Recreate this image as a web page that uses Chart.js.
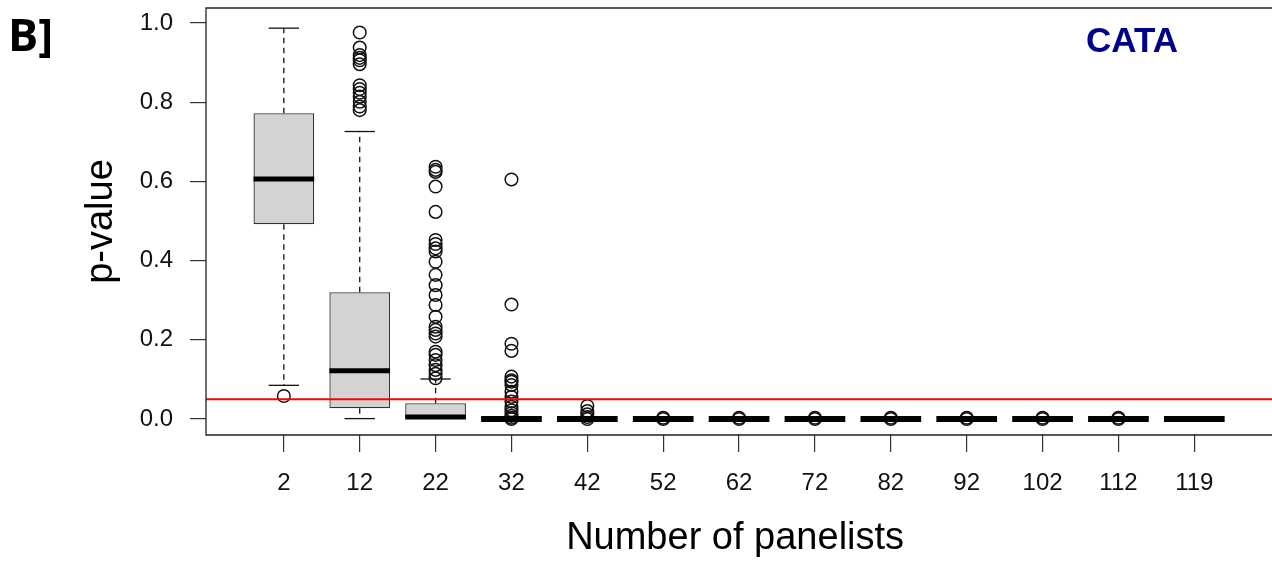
<!DOCTYPE html>
<html>
<head>
<meta charset="utf-8">
<script src="https://cdn.jsdelivr.net/npm/chart.js@4/dist/chart.umd.min.js"></script>
<style>
  html, body { margin: 0; padding: 0; background: #fff; overflow: hidden; }
  #wrap { width: 1272px; height: 561px; }
  canvas { display: block; }
</style>
</head>
<body>
<div id="wrap"><canvas id="c" width="1272" height="561"></canvas></div>
<script>
// panel sizes (x categories)
var panelists = ['2', '12', '22', '32', '42', '52', '62', '72', '82', '92', '102', '112', '119'];

// box plot statistics
var lowerWhisker = [0.085, 0.001, 0.0, 0, 0, 0, 0, 0, 0, 0, 0, 0, 0];
var q1 = [0.492, 0.027, 0.0, 0, 0, 0, 0, 0, 0, 0, 0, 0, 0];
var medians = [0.606, 0.122, 0.005, 0, 0, 0, 0, 0, 0, 0, 0, 0, 0];
var q3 = [0.772, 0.320, 0.040, 0, 0, 0, 0, 0, 0, 0, 0, 0, 0];
var upperWhisker = [0.987, 0.726, 0.101, 0, 0, 0, 0, 0, 0, 0, 0, 0, 0];

var outliers = [
    [0.058],
    [0.976, 0.938, 0.919, 0.912, 0.906, 0.896, 0.843, 0.833, 0.824, 0.814, 0.801, 0.789, 0.780],
    [0.637, 0.629, 0.624, 0.587, 0.523, 0.452, 0.442, 0.431, 0.423, 0.397, 0.364, 0.338, 0.313,
     0.288, 0.258, 0.233, 0.225, 0.216, 0.208, 0.170, 0.162, 0.149, 0.136, 0.124, 0.114, 0.103],
    [0.605, 0.289, 0.190, 0.172, 0.107, 0.098, 0.094, 0.086, 0.069, 0.056, 0.044, 0.031, 0.022,
     0.015, 0.008, 0.003, 0.0],
    [0.033, 0.020, 0.012, 0.005, 0.0],
    [0.003, 0.0],
    [0.003, 0.0],
    [0.003, 0.0],
    [0.003, 0.0],
    [0.003, 0.0],
    [0.003, 0.0],
    [0.003, 0.0],
    []
];

var yTicks = [0, 0.2, 0.4, 0.6, 0.8, 1.0];
var pThreshold = 0.05;

var boxData = [];
var outlierData = [];
for (var i = 0; i < panelists.length; i += 1) {
    boxData.push({ x: i, y: [q1[i], q3[i]] });
    for (var j = 0; j < outliers[i].length; j += 1) {
        outlierData.push({ x: i, y: outliers[i][j] });
    }
}

var axisFont = { family: "'Liberation Sans', Arial, sans-serif", size: 24 };
var titleFont = { family: "'Liberation Sans', Arial, sans-serif", size: 38 };

function noPadding(scale) {
    scale.paddingLeft = 0;
    scale.paddingRight = 0;
    scale.paddingTop = 0;
    scale.paddingBottom = 0;
}

// whiskers + medians, drawn right after the boxes so outliers sit on top
var boxPlotPlugin = {
    id: 'boxPlot',
    afterDatasetDraw: function (chart, args) {
        if (args.index !== 0) return;
        var ctx = chart.ctx;
        var xs = chart.scales.x;
        var ys = chart.scales.y;
        var step = xs.getPixelForValue(1) - xs.getPixelForValue(0);
        var half = step * 0.4;
        var cap = step * 0.2;
        ctx.save();
        ctx.strokeStyle = '#111';
        ctx.lineWidth = 1.3;
        for (var i = 0; i < panelists.length; i += 1) {
            var x = xs.getPixelForValue(i);
            if (upperWhisker[i] > q3[i]) {
                ctx.setLineDash([5.5, 4.5]);
                ctx.beginPath();
                ctx.moveTo(x, ys.getPixelForValue(q3[i]));
                ctx.lineTo(x, ys.getPixelForValue(upperWhisker[i]));
                ctx.stroke();
                ctx.setLineDash([]);
                ctx.beginPath();
                ctx.moveTo(x - cap, ys.getPixelForValue(upperWhisker[i]));
                ctx.lineTo(x + cap, ys.getPixelForValue(upperWhisker[i]));
                ctx.stroke();
            }
            if (lowerWhisker[i] < q1[i]) {
                ctx.setLineDash([5.5, 4.5]);
                ctx.beginPath();
                ctx.moveTo(x, ys.getPixelForValue(q1[i]));
                ctx.lineTo(x, ys.getPixelForValue(lowerWhisker[i]));
                ctx.stroke();
                ctx.setLineDash([]);
                ctx.beginPath();
                ctx.moveTo(x - cap, ys.getPixelForValue(lowerWhisker[i]));
                ctx.lineTo(x + cap, ys.getPixelForValue(lowerWhisker[i]));
                ctx.stroke();
            }
        }
        ctx.strokeStyle = '#000';
        ctx.lineCap = 'butt';
        for (var k = 0; k < panelists.length; k += 1) {
            var xm = xs.getPixelForValue(k);
            var ym = ys.getPixelForValue(medians[k]);
            ctx.lineWidth = (q3[k] === q1[k]) ? 6 : 5;
            ctx.beginPath();
            ctx.moveTo(xm - half, ym);
            ctx.lineTo(xm + half, ym);
            ctx.stroke();
        }
        ctx.restore();
    },
    afterDatasetsDraw: function (chart) {
        var ctx = chart.ctx;
        var a = chart.chartArea;
        var ys = chart.scales.y;
        var edge = chart.width + 2;
        ctx.save();
        // significance line
        ctx.strokeStyle = '#ff0000';
        ctx.lineWidth = 2;
        var yr = ys.getPixelForValue(pThreshold);
        ctx.beginPath();
        ctx.moveTo(a.left, yr);
        ctx.lineTo(edge, yr);
        ctx.stroke();
        // plot frame (right edge falls outside the picture)
        ctx.strokeStyle = '#222';
        ctx.lineWidth = 1.3;
        ctx.beginPath();
        ctx.moveTo(edge, a.top);
        ctx.lineTo(a.left, a.top);
        ctx.lineTo(a.left, a.bottom);
        ctx.lineTo(edge, a.bottom);
        ctx.stroke();
        ctx.restore();
    },
    afterDraw: function (chart) {
        var ctx = chart.ctx;
        ctx.save();
        ctx.fillStyle = '#000';
        ctx.font = "bold 45px 'Open Sans', 'Noto Sans', sans-serif";
        ctx.textBaseline = 'alphabetic';
        ctx.textAlign = 'left';
        ctx.fillText('B]', 8, 51);
        ctx.fillStyle = '#00008b';
        ctx.font = "bold 35px 'Liberation Sans', Arial, sans-serif";
        ctx.textAlign = 'center';
        ctx.fillText('CATA', 1132, 52);
        ctx.restore();
    }
};

var chart = new Chart(document.getElementById('c'), {
    type: 'scatter',
    data: {
        datasets: [{
            type: 'bar',
            data: boxData,
            backgroundColor: '#d3d3d3',
            borderColor: '#333',
            borderWidth: 1.3,
            borderSkipped: false,
            barPercentage: 0.8,
            categoryPercentage: 1.0
        }, {
            type: 'scatter',
            data: outlierData,
            pointStyle: 'circle',
            pointRadius: 6.3,
            pointHoverRadius: 6.3,
            pointBorderWidth: 1.5,
            borderColor: '#111',
            backgroundColor: 'rgba(0,0,0,0)'
        }]
    },
    options: {
        responsive: false,
        animation: false,
        devicePixelRatio: 1,
        layout: { padding: { left: 0, top: 8, right: 0, bottom: 0 } },
        plugins: {
            legend: { display: false },
            tooltip: { enabled: false }
        },
        scales: {
            x: {
                type: 'linear',
                min: -1.026,
                max: 12.921,
                offset: false,
                afterBuildTicks: function (scale) {
                    scale.ticks = panelists.map(function (p, i) { return { value: i }; });
                },
                afterFit: function (scale) {
                    scale.height = 126;
                    noPadding(scale);
                },
                grid: { display: true, drawOnChartArea: false, offset: false, tickLength: 17, color: '#333', lineWidth: 1.2 },
                border: { display: false },
                ticks: {
                    font: axisFont,
                    color: '#111',
                    padding: 17,
                    maxRotation: 0,
                    autoSkip: false,
                    callback: function (value) { return panelists[value]; }
                },
                title: {
                    display: true,
                    text: 'Number of panelists',
                    font: titleFont,
                    color: '#000',
                    padding: { top: 0, bottom: 0 }
                }
            },
            y: {
                type: 'linear',
                min: -0.0404,
                max: 1.0379,
                afterBuildTicks: function (scale) {
                    scale.ticks = yTicks.map(function (v) { return { value: v }; });
                },
                afterFit: function (scale) {
                    scale.width = 206;
                    noPadding(scale);
                },
                grid: { display: true, drawOnChartArea: false, tickLength: 16, color: '#333', lineWidth: 1.2 },
                border: { display: false },
                ticks: {
                    font: axisFont,
                    color: '#111',
                    padding: 17,
                    callback: function (value) { return value.toFixed(1); }
                },
                title: {
                    display: true,
                    text: 'p-value',
                    font: titleFont,
                    color: '#000',
                    padding: { top: 79, bottom: 0 }
                }
            }
        }
    },
    plugins: [boxPlotPlugin]
});
</script>
</body>
</html>
